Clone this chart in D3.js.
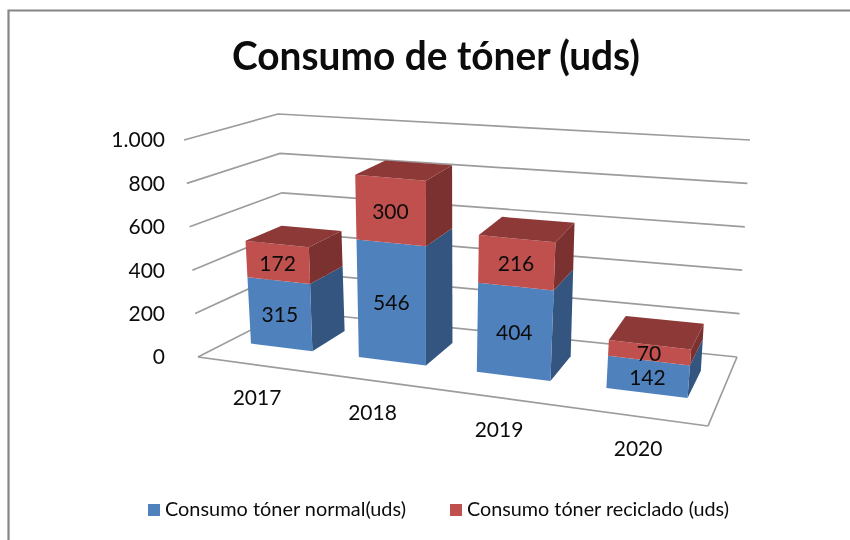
<!DOCTYPE html>
<html><head><meta charset="utf-8">
<script src="https://cdn.jsdelivr.net/npm/d3@7/dist/d3.min.js"></script>
<style>html,body{margin:0;background:#fff}svg{display:block;filter:blur(0.45px)}text{font-family:Lato,"Open Sans",sans-serif;fill:#0c0c0c}</style>
</head><body><svg id="c" width="850" height="540"></svg>
<script>
const titleText = "Consumo de tóner (uds)";
const categories = ["2017","2018","2019","2020"];
const seriesNames = ["Consumo tóner normal(uds)","Consumo tóner reciclado (uds)"];
const normalValues = [315,546,404,142];
const recycledValues = [172,300,216,70];
const yTicks = [0,200,400,600,800,1000];
const tickLabels = ["0","200","400","600","800","1.000"];

const svg = d3.select("#c");
// frame
svg.append("path").attr("d","M8.5,540V10.5H850").attr("fill","none").attr("stroke","#868686").attr("stroke-width",2.2);

// projection box corners
const box = {
  f0b:[198,357], f1b:[708,426], b0b:[288,311], b1b:[737,357],
  f0t:[184,140], f1t:[730,188], b0t:[278,114], b1t:[750,140]
};
function project(u,d,h){
  const lerp=(a,b,t)=>[a[0]+(b[0]-a[0])*t,a[1]+(b[1]-a[1])*t];
  const fb=lerp(box.f0b,box.f1b,u), bb=lerp(box.b0b,box.b1b,u);
  const ft=lerp(box.f0t,box.f1t,u), bt=lerp(box.b0t,box.b1t,u);
  return lerp(lerp(fb,bb,d),lerp(ft,bt,d),h);
}
const band = d3.scaleBand().domain(categories).range([0,1]).paddingInner(0.42).paddingOuter(0.21);
const perspectiveK = 0.83;
const warp = t => perspectiveK*t/(1+(perspectiveK-1)*t);
const yScale = d3.scaleLinear().domain([0,1000]).range([0,1]);
const depth = d3.scaleLinear().domain([0,1]).range([0.35,0.755]);
const P = (t,dn,v)=>project(warp(t),depth(dn),yScale(v));
const poly = pts=>"M"+pts.map(p=>p.map(n=>n.toFixed(2)).join(",")).join("L")+"Z";
const seg = (a,b)=>"M"+a.join(",")+"L"+b.join(",");

const grid = svg.append("g").attr("fill","none").attr("stroke","#9c9c9c").attr("stroke-width",1.7);
yTicks.forEach(v=>{
  const h=yScale(v);
  grid.append("path").attr("d","M"+[project(0,0,h),project(0,1,h),project(1,1,h)].map(p=>p.join(",")).join("L"));
});
grid.append("path").attr("d",seg(project(0,0,0),project(1,0,0)));
grid.append("path").attr("d",seg(project(1,0,0),project(1,1,0)));

const colors = [
  {front:"#4f81bd",side:"#33557f",top:"#3a618f"},
  {front:"#c0504d",side:"#7a312f",top:"#8d3937"}
];
categories.forEach((c,i)=>{
  const t0=band(c), t1=t0+band.bandwidth();
  const g=svg.append("g");
  let base=0;
  [normalValues[i],recycledValues[i]].forEach((val,s)=>{
    const a=base,b=base+val,col=colors[s];
    g.append("path").attr("fill",col.side).attr("d",poly([P(t1,0,a),P(t1,1,a),P(t1,1,b),P(t1,0,b)]));
    g.append("path").attr("fill",col.front).attr("d",poly([P(t0,0,a),P(t1,0,a),P(t1,0,b),P(t0,0,b)]));
    if(s===1) g.append("path").attr("fill",col.top).attr("d",poly([P(t0,0,b),P(t1,0,b),P(t1,1,b),P(t0,1,b)]));
    base=b;
  });
});
// value labels
categories.forEach((c,i)=>{
  const tm=band(c)+band.bandwidth()/2;
  let base=0;
  [normalValues[i],recycledValues[i]].forEach(val=>{
    const p=P(tm,0,base+val/2);
    svg.append("text").attr("x",p[0]).attr("y",p[1]+3).attr("text-anchor","middle")
      .attr("dominant-baseline","middle").attr("font-size",21).text(val);
    base+=val;
  });
});
// y axis labels
yTicks.forEach((v,i)=>{
  const p=project(0,0,yScale(v));
  svg.append("text").attr("x",165).attr("y",p[1]+2).attr("text-anchor","end")
    .attr("dominant-baseline","middle").attr("font-size",21).text(tickLabels[i]);
});
// category labels
categories.forEach(c=>{
  const u=warp(band(c)+band.bandwidth()/2);
  const p=project(u,0,0);
  svg.append("text").attr("x",p[0]+5).attr("y",p[1]+35).attr("text-anchor","middle")
    .attr("dominant-baseline","middle").attr("font-size",21).text(c);
});
// title
svg.append("text").attr("x",436).attr("y",60).attr("text-anchor","middle").attr("dominant-baseline","middle")
  .attr("font-size",40).attr("font-weight",700).attr("textLength",408).attr("lengthAdjust","spacingAndGlyphs").text(titleText);
// legend
const legendX=[148,450], legendW=[241,262];
seriesNames.forEach((n,i)=>{
  svg.append("rect").attr("x",legendX[i]).attr("y",504).attr("width",12).attr("height",12).attr("fill",colors[i].front);
  svg.append("text").attr("x",legendX[i]+17).attr("y",511).attr("dominant-baseline","middle")
    .attr("font-size",19).attr("textLength",legendW[i]).attr("lengthAdjust","spacingAndGlyphs").text(n);
});
</script></body></html>
